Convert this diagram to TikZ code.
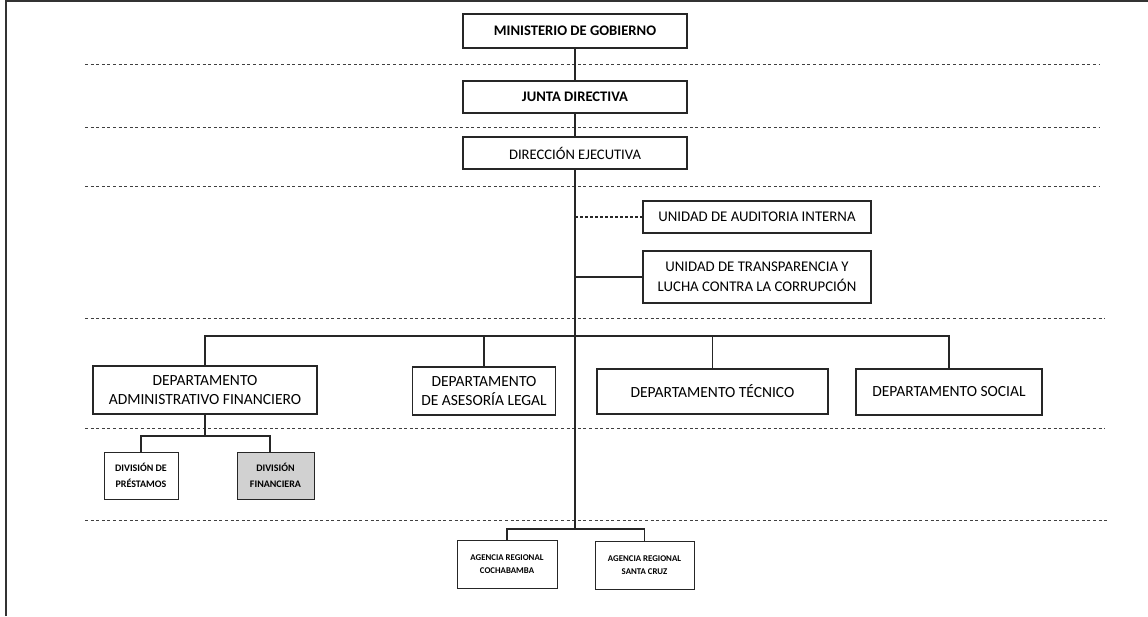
\documentclass[tikz,border=0pt]{standalone}
\usepackage{fontspec}
\setmainfont{Carlito}
\begin{document}
\begin{tikzpicture}[x=1pt,y=-1pt,
  box/.style={draw=black!85,line width=1.3pt,fill=white,align=center,inner sep=0pt,font=\fontsize{14.8}{20}\selectfont},
  topbox/.style={box,font=\fontsize{14.6}{18}\selectfont\bfseries},
  deptbox/.style={box,font=\fontsize{15.5}{19.5}\selectfont},
  divbox/.style={box,line width=1pt,font=\fontsize{10}{16.5}\selectfont\bfseries},
  agbox/.style={box,line width=1pt,font=\fontsize{8.8}{13.5}\selectfont\bfseries},
  link/.style={draw=black!85,line width=1.1pt},
  sep/.style={draw=black!75,line width=0.9pt,dash pattern=on 3pt off 2.6pt},
  frame/.style={draw=black!80,line width=1.8pt}]
\useasboundingbox (0,0) rectangle (1148,616);
% frame
\coordinate (f1) at (6,616);
\coordinate (f2) at (6,1);
\coordinate (f3) at (1148,1);
\draw[frame] (f1) -- (f2) -- (f3);
% dashed level separators
\foreach \y/\xe in {64/1100,127/1100,186/1100,318/1105,428/1105,520/1108}
  \draw[sep] (85,\y) -- (\xe,\y);
% nodes
\node[topbox,minimum width=224,minimum height=34] (min) at (575,31) {MINISTERIO DE GOBIERNO};
\node[topbox,minimum width=224,minimum height=32] (junta) at (575,97) {JUNTA DIRECTIVA};
\node[box,font=\fontsize{14.6}{18}\selectfont,minimum width=224,minimum height=32] (dir) at (575,153) {DIRECCIÓN EJECUTIVA};
\node[box,minimum width=228,minimum height=32] (aud) at (757,217) {UNIDAD DE AUDITORIA INTERNA};
\node[box,minimum width=228,minimum height=52] (trans) at (757,277) {UNIDAD DE TRANSPARENCIA Y\\LUCHA CONTRA LA CORRUPCIÓN};
\node[deptbox,minimum width=224,minimum height=48] (adm) at (205,390) {DEPARTAMENTO\\ADMINISTRATIVO FINANCIERO};
\node[deptbox,minimum width=143,minimum height=48] (legal) at (484,391) {DEPARTAMENTO\\DE ASESORÍA LEGAL};
\node[deptbox,minimum width=231,minimum height=45] (tec) at (712.5,391.5) {DEPARTAMENTO TÉCNICO};
\node[deptbox,minimum width=186,minimum height=46] (soc) at (949,392) {DEPARTAMENTO SOCIAL};
\node[divbox,minimum width=74,minimum height=47] (pres) at (141,475.5) {DIVISIÓN DE\\PRÉSTAMOS};
\node[divbox,fill=black!18,minimum width=77,minimum height=47] (fin) at (275.5,475.5) {DIVISIÓN\\FINANCIERA};
\node[agbox,minimum width=100,minimum height=48] (cocha) at (507,564) {AGENCIA REGIONAL\\COCHABAMBA};
\node[agbox,minimum width=99,minimum height=48] (scz) at (644.5,565) {AGENCIA REGIONAL\\SANTA CRUZ};
% connector coordinates
\coordinate (tb) at (575,529);
\coordinate (ta) at (575,217);
\coordinate (tt) at (575,277);
\coordinate (th) at (575,336);
\coordinate (ah) at (205,436);
% connectors
\draw[link] (min) -- (junta);
\draw[link] (junta) -- (dir);
\draw[link] (dir.south) -- (tb);
\draw[link,dash pattern=on 3pt off 2pt] (ta) -- (aud.west);
\draw[link] (tt) -- (trans.west);
\draw[link] (th) -| (adm.north);
\draw[link] (th) -| (legal.north);
\draw[link] (th) -| (tec.north);
\draw[link] (th) -| (soc.north);
\draw[link] (adm.south) -- (ah);
\draw[link] (ah) -| (pres.north);
\draw[link] (ah) -| ([xshift=-5.5pt]fin.north);
\draw[link] (tb) -| (cocha.north);
\draw[link] (tb) -| (scz.north);
\end{tikzpicture}
\end{document}
